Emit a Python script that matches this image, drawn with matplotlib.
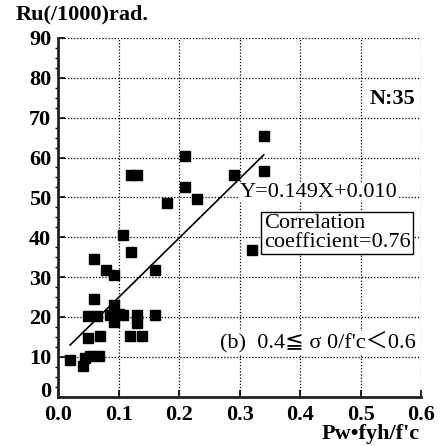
import numpy as np
import matplotlib.pyplot as plt
from matplotlib.ticker import MultipleLocator, FuncFormatter

# Pw*fyh/f'c vs ultimate rotation Ru (1/1000 rad), N=35
pw_ratio = [0.340, 0.209, 0.340, 0.291, 0.209, 0.230, 0.180, 0.121, 0.131,
            0.108, 0.120, 0.060, 0.080, 0.092, 0.160, 0.320, 0.060, 0.050,
            0.064, 0.092, 0.100, 0.086, 0.092, 0.108, 0.130, 0.130, 0.160,
            0.050, 0.069, 0.119, 0.139, 0.020, 0.045, 0.042, 0.053, 0.067]
ru = [65.5, 60.5, 56.5, 55.5, 52.5, 49.5, 48.5, 55.5, 55.5,
      40.5, 36.3, 34.5, 31.8, 30.5, 31.8, 36.8, 24.5, 20.3,
      20.3, 23.0, 20.8, 20.5, 18.7, 20.5, 20.5, 18.5, 20.5,
      14.7, 15.3, 15.3, 15.3, 9.2, 9.7, 7.6, 10.3, 10.3]

# regression Y=0.149X+0.010 (rad) -> Ru = 149*x + 10 in 1/1000 rad
slope, icpt = 149.0, 10.0
fit_x = np.array([0.02, 0.34])

serif = ['Liberation Serif', 'DejaVu Sans', 'Noto Sans CJK JP']
plt.rcParams['font.family'] = serif
fs = 16

fig = plt.figure(figsize=(4.4, 4.46), dpi=100)
ax = fig.add_axes([0.132, 0.1105, 0.825, 0.8045])

ax.plot(pw_ratio, ru, 's', color='black', ms=7.8, zorder=3)
ax.plot(fit_x, slope * fit_x + icpt, '-', color='black', lw=1.2, zorder=2)

ax.set_xlim(0, 0.6)
ax.set_ylim(0, 90)
ax.yaxis.set_major_locator(MultipleLocator(10))
ax.yaxis.set_minor_locator(MultipleLocator(2.5))
# "0" is drawn by hand below so it can sit a bit higher
ax.yaxis.set_major_formatter(FuncFormatter(lambda v, p: '' if v == 0 else '%d' % v))
ax.set_xticks(np.arange(0, 0.61, 0.1))
ax.set_xticklabels(['0.0', '0.1', '0.2', '0.3', '0.4', '0.5', '0.6'])

ax.grid(True, which='major', color='black', linestyle=(0, (1, 1.5)), lw=0.9)
for s in ['top', 'right']:
    ax.spines[s].set_visible(False)
for s in ['left', 'bottom']:
    ax.spines[s].set_linewidth(2)
    ax.spines[s].set_color('#222222')

ax.tick_params(axis='both', which='major', direction='in', length=5, width=1.2,
               labelsize=fs, pad=5)
ax.tick_params(axis='x', which='major', pad=6)
ax.tick_params(axis='y', which='minor', direction='out', length=2.5, width=1)
for lab in ax.get_xticklabels() + ax.get_yticklabels():
    lab.set_fontweight('bold')
ax.annotate('0', xy=(0, 0), xycoords='axes fraction', xytext=(-5, 0),
            textcoords='offset points', ha='right', va='baseline',
            fontsize=fs, fontweight='bold')

fig.text(0.035, 0.968, 'Ru(/1000)rad.', fontsize=fs, fontweight='bold', va='center')
fig.text(0.955, 0.028, "Pw\u2022fyh/f'c", fontsize=fs, fontweight='bold',
         ha='right', va='center')

ax.text(0.591, 74.7, 'N:35', fontsize=fs, fontweight='bold', ha='right', va='center',
        bbox=dict(facecolor='white', edgecolor='none', pad=1))
ax.text(0.300, 51.3, 'Y=0.149X+0.010', fontsize=fs, ha='left', va='center',
        bbox=dict(facecolor='white', edgecolor='none', pad=0.5))
ax.text(0.340, 41.1, 'Correlation\ncoefficient=0.76', fontsize=fs, ha='left',
        va='center', linespacing=0.95,
        bbox=dict(facecolor='white', edgecolor='black', lw=1, pad=2))
ax.text(0.591, 13.5, "(b)  0.4\u2266 \u03c3 0/f'c\uff1c0.6", fontsize=fs,
        ha='right', va='center',
        bbox=dict(facecolor='white', edgecolor='none', pad=1))

fig.savefig('out.png', dpi=100)
